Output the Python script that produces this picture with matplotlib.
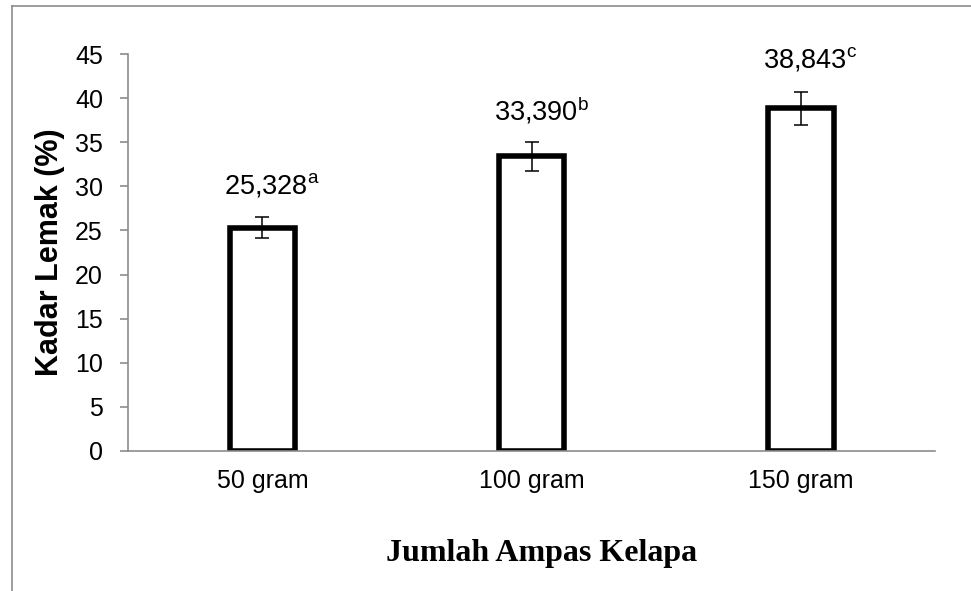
import matplotlib.pyplot as plt
from matplotlib.lines import Line2D

plt.rcParams['font.family'] = ['Liberation Sans', 'DejaVu Sans']
plt.rcParams['mathtext.fontset'] = 'custom'
plt.rcParams['mathtext.rm'] = 'Liberation Sans'

categories = ['50 gram', '100 gram', '150 gram']
values = [25.328, 33.390, 38.843]
errors = [1.2, 1.6, 1.9]
labels = ['25,328', '33,390', '38,843']
letters = ['a', 'b', 'c']

fig = plt.figure(figsize=(9.71, 5.91), dpi=100)
ax = fig.add_axes([0.1318, 0.2369, 0.8312, 0.6716])

x = range(len(categories))
ax.bar(x, values, width=0.245, color='white', edgecolor='black', linewidth=4,
       yerr=errors, error_kw=dict(ecolor='black', elinewidth=1.1, capsize=5, capthick=1.1))

for i, v in enumerate(values):
    ax.annotate(labels[i] + '$^{\\mathrm{' + letters[i] + '}}$', (i, v + errors[i]),
                xytext=(7, 23), textcoords='offset points', ha='center', va='center',
                fontsize=19.5)

ax.set_xlim(-0.5, 2.5)
ax.set_ylim(0, 45)
ax.set_yticks(range(0, 46, 5))
ax.set_xticks(list(x))
ax.set_xticklabels(categories)

for s in ['top', 'right']:
    ax.spines[s].set_visible(False)
ax.spines['left'].set_color('#8c8c8c')
ax.spines['bottom'].set_color('#8c8c8c')
ax.spines['left'].set_linewidth(1.2)
ax.spines['bottom'].set_linewidth(1.2)
ax.tick_params(axis='y', direction='out', length=6, width=1.2, color='#8c8c8c',
               labelsize=18, pad=12)
ax.tick_params(axis='x', length=0, labelsize=18, pad=13)

ax.set_ylabel('Kadar Lemak (%)', fontsize=22, fontweight='bold', labelpad=7)
fig.text(542 / 971, 1 - 553 / 591, 'Jumlah Ampas Kelapa', ha='center', va='center',
         fontsize=23, fontweight='bold', family='Liberation Serif')

# outer frame (top and left edge visible)
fig.add_artist(Line2D([12 / 971, 1.0], [1 - 6 / 591, 1 - 6 / 591], color='#8c8c8c', linewidth=1.2))
fig.add_artist(Line2D([12 / 971, 12 / 971], [0, 1 - 6 / 591], color='#8c8c8c', linewidth=1.2))

fig.savefig('out.png', dpi=100)
